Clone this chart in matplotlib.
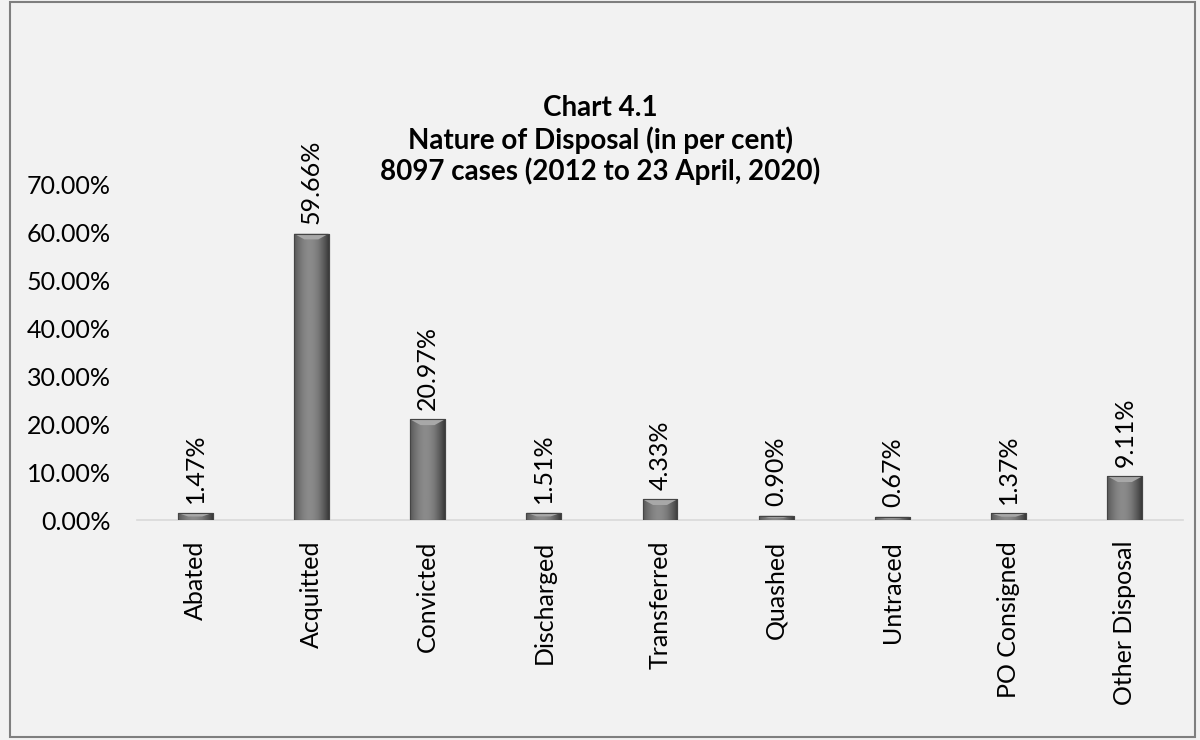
import numpy as np
import matplotlib.pyplot as plt
from matplotlib.patches import Rectangle

categories = ['Abated', 'Acquitted', 'Convicted', 'Discharged', 'Transferred',
              'Quashed', 'Untraced', 'PO Consigned', 'Other Disposal']
shares = [1.47, 59.66, 20.97, 1.51, 4.33, 0.90, 0.67, 1.37, 9.11]
yticks = [0, 10, 20, 30, 40, 50, 60, 70]

plt.rcParams['font.family'] = ['Lato', 'DejaVu Sans']

fig = plt.figure(figsize=(12, 7.4), dpi=100, facecolor='#f2f2f2')
ax = fig.add_axes([137/1200, 1-520/740, (1183-137)/1200, (520-184)/740])
ax.set_facecolor('#f2f2f2')

x = np.arange(len(categories))
bars = ax.bar(x, shares, width=0.3, color='#7a7a7a', edgecolor='#505050', linewidth=0.8, zorder=2)

# horizontal shading to mimic the bevelled bars
grad = np.linspace(0, 1, 64)
shade = 0.35 + 0.25*np.sin(np.pi*grad) - 0.12*grad
img = np.tile(shade, (2, 1))
for b in bars:
    bx, bw, bh = b.get_x(), b.get_width(), b.get_height()
    im = ax.imshow(img, cmap='gray', vmin=0, vmax=1, aspect='auto',
                   extent=(bx, bx+bw, 0, bh), zorder=3, interpolation='bilinear')
    im.set_clip_path(b)
    # lighter top bevel
    d = min(bh*0.5, 1.2)
    ax.fill([bx, bx+bw, bx+bw*0.7, bx+bw*0.3], [bh, bh, bh-d, bh-d],
            color='#a8a8a8', zorder=4, lw=0)
    ax.add_patch(Rectangle((bx, 0), bw, bh, fill=False, edgecolor='#454545', lw=0.8, zorder=5))

for xi, v in zip(x, shares):
    ax.text(xi, v + 2.0, '%.2f%%' % v, rotation=90, ha='center', va='bottom', fontsize=18, color='black')

ax.set_xlim(-0.5, len(categories) - 0.5)
ax.set_ylim(0, 70)
ax.set_yticks(yticks)
ax.set_yticklabels(['%.2f%%' % t for t in yticks], fontsize=18)
ax.set_xticks(x)
ax.set_xticklabels(categories, rotation=90, fontsize=18)
ax.tick_params(length=0)
ax.tick_params(axis='y', pad=19)
ax.tick_params(axis='x', pad=15)
for s in ['top', 'right', 'left']:
    ax.spines[s].set_visible(False)
ax.spines['bottom'].set_color('#d9d9d9')
ax.spines['bottom'].set_linewidth(1.2)

fig.text(0.5, 1-108/740, 'Chart 4.1', ha='center', va='center', fontsize=20, fontweight='bold')
fig.text(0.5, 1-140/740, 'Nature of Disposal (in per cent)', ha='center', va='center', fontsize=20, fontweight='bold')
fig.text(0.5, 1-171/740, '8097 cases (2012 to 23 April, 2020)', ha='center', va='center', fontsize=20, fontweight='bold')

fig.patches.append(Rectangle((0.008, 0.004), 0.988, 0.993, transform=fig.transFigure,
                             fill=False, edgecolor='#7f7f7f', lw=1.5))

fig.savefig('out.png', dpi=100, facecolor='#f2f2f2')
